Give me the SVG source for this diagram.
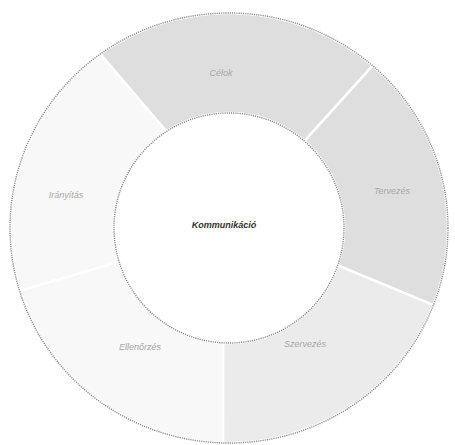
<svg xmlns="http://www.w3.org/2000/svg" width="455" height="445" viewBox="0 0 455 445">
<style>
.seg{stroke:#ffffff;stroke-width:2.5;stroke-linejoin:round}
.dark{fill:#dedede}
.mid{fill:#ebebeb}
.light{fill:#f8f8f8}
.rim{fill:none;stroke:#8c8c8c;stroke-width:1.4;stroke-dasharray:1.2 1}
.lbl{font-family:"Liberation Sans",Arial,sans-serif;font-size:9px;fill:#a8a8a8;text-anchor:middle;font-style:italic}
.ctr{font-family:"Liberation Sans",Arial,sans-serif;font-size:9px;fill:#333;text-anchor:middle;font-style:italic;font-weight:bold}
</style>
<rect width="455" height="445" fill="#ffffff"/>
<g id="segments">
<g id="seg-top"><path class="seg dark" d="M 100.3 54.1 A 219 215 0 0 1 372.7 65.7 L 304.5 141.2 A 115 115 0 0 0 166.4 131.5 Z"/><text class="lbl" x="221" y="76">Célok</text></g>
<g id="seg-right"><path class="seg dark" d="M 372.7 65.7 A 219 215 0 0 1 433.5 305.1 L 337.7 265.4 A 115 115 0 0 0 304.5 141.2 Z"/><text class="lbl" x="392" y="194">Tervezés</text></g>
<g id="seg-bottom-right"><path class="seg mid" d="M 433.5 305.1 A 219 215 0 0 1 222.9 442.9 L 223 342.8 A 115 115 0 0 0 337.7 265.4 Z"/><text class="lbl" x="305" y="347">Szervezés</text></g>
<g id="seg-bottom-left"><path class="seg light" d="M 222.9 442.9 A 219 215 0 0 1 19.6 290.9 L 119 261.6 A 115 115 0 0 0 223 342.8 Z"/><text class="lbl" x="140" y="350">Ellenőrzés</text></g>
<g id="seg-left"><path class="seg light" d="M 19.6 290.9 A 219 215 0 0 1 100.3 54.1 L 166.4 131.5 A 115 115 0 0 0 119 261.6 Z"/><text class="lbl" x="66" y="198">Irányítás</text></g>
</g>
<g id="connectors">
<ellipse class="rim" cx="229" cy="228" rx="219" ry="215"/>
<circle class="rim" cx="229" cy="228" r="115"/>
</g>
<g id="center">
<circle cx="229" cy="228" r="113" fill="#ffffff"/>
<text class="ctr" x="224" y="228">Kommunikáció</text>
</g>
</svg>
